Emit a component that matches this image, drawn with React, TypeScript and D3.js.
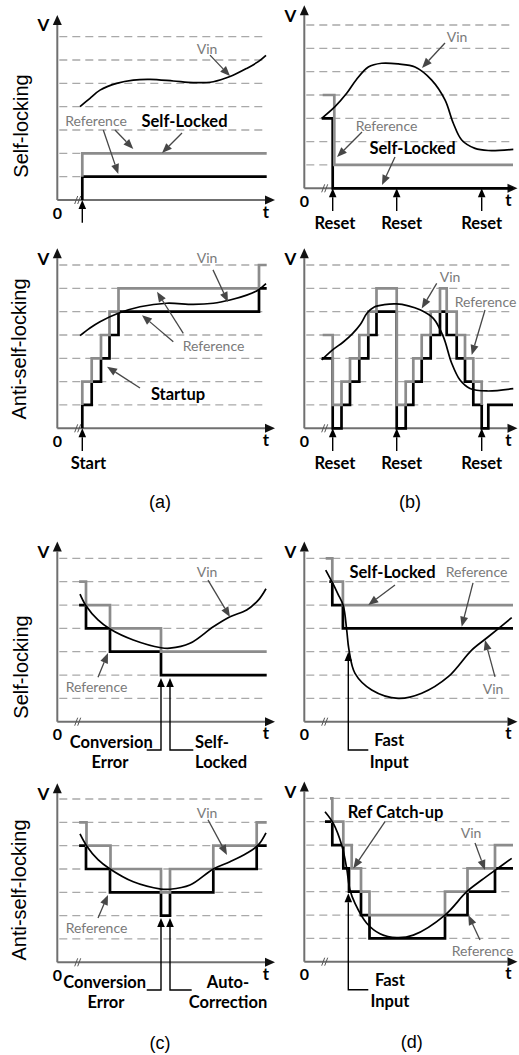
import React from "react";
import * as d3 from "d3";

type Pt = [number, number];
type Label = { text: string; t: number; l: number; bold?: boolean; anchor?: "start" | "middle" | "end" };

// ---------- shared ----------
const GRID_LEVELS = [1, 2, 3, 4, 5, 6, 7];

// ---------- (a) top : self-locking ----------
const A1_VIN: Pt[] = [[11.35, 4.0], [16.35, 4.36], [21.35, 4.71], [29.7, 5.0], [38, 5.14], [46.35, 5.17], [58, 5.1], [68, 5.03], [78, 5.07], [86.35, 5.29], [94.7, 5.64], [100.5, 5.93], [104.35, 6.2]];
const A1_REF: Pt[] = [[12.5, 1], [12.5, 2], [104.7, 2]];
const A1_OUT: Pt[] = [[12.5, 0], [12.5, 1], [104.7, 1]];
const A1_LABELS: Label[] = [
  { text: "Vin", t: 74.85, l: 6.51 },
  { text: "Reference", t: 19.35, l: 3.39 },
  { text: "Self-Locked", t: 63.6, l: 3.39, bold: true },
];
const A1_ARROWS: Pt[][] = [
  [[76.35, 6.21], [86.35, 5.31]],
  [[28.85, 3.0], [38, 2.19]],
  [[23, 3.0], [30.5, 1.11]],
  [[62.35, 2.87], [52.35, 2.01]],
];
const A1_UPS = [12.5];

// ---------- (a) bottom : anti-self-locking ----------
const A2_VIN: Pt[] = [[11.35, 3.97], [16.35, 4.3], [21.35, 4.57], [30.5, 4.93], [41.35, 5.21], [54.7, 5.36], [68, 5.31], [78, 5.36], [86.35, 5.5], [94.7, 5.71], [100.5, 5.93], [104.35, 6.2]];
const A2_REF: Pt[] = [[12.5, 1], [12.5, 2], [17.2, 3], [21.85, 4], [26.1, 5], [30.6, 6], [100.85, 7], [104.7, 7]];
const A2_OUT: Pt[] = [[12.5, 0], [12.5, 1], [17.2, 2], [21.85, 3], [26.1, 4], [30.6, 5], [100.85, 6], [104.7, 6]];
const A2_LABELS: Label[] = [
  { text: "Vin", t: 74.85, l: 7.3 },
  { text: "Reference", t: 78.1, l: 3.57 },
  { text: "Startup", t: 60.35, l: 1.47, bold: true },
  { text: "Start", t: 15.6, l: -1.5, bold: true },
];
const A2_ARROWS: Pt[][] = [
  [[77.85, 6.79], [85.35, 5.41]],
  [[63, 4.07], [49.85, 5.85]],
  [[58, 3.71], [42.35, 4.85]],
  [[41.35, 1.73], [24.85, 2.64]],
];
const A2_UPS = [12.5];

// ---------- (b) top ----------
const B1_VIN: Pt[] = [[8.7, 3.0], [15.35, 3.5], [21.2, 4.07], [26, 4.65], [32, 5.2], [38.7, 5.36], [47, 5.33], [55.35, 5.2], [63.7, 4.64], [70.35, 3.79], [74.5, 2.79], [78.7, 2.07], [85.35, 1.71], [92, 1.62], [104.5, 1.67]];
const B1_REF: Pt[] = [[9.2, 4], [15, 4], [15, 1], [104.35, 1]];
const B1_OUT: Pt[] = [[8.7, 3], [14.2, 3], [14.2, 0], [104.35, 0]];
const B1_LABELS: Label[] = [
  { text: "Vin", t: 76.35, l: 6.49 },
  { text: "Reference", t: 41.1, l: 2.71 },
  { text: "Self-Locked", t: 54.1, l: 1.73, bold: true },
  { text: "Reset", t: 15.35, l: -1.5, bold: true },
  { text: "Reset", t: 48.7, l: -1.5, bold: true },
  { text: "Reset", t: 88.7, l: -1.5, bold: true },
];
const B1_ARROWS: Pt[][] = [
  [[70.35, 6.23], [58.85, 5.16]],
  [[28.85, 2.41], [16.35, 1.34]],
  [[45.35, 1.34], [38.85, 0.14]],
];
const B_RESETS = [14.2, 46.2, 88.7];

// ---------- (b) bottom ----------
const B2_VIN: Pt[] = [[8.7, 2.93], [14, 3.35], [19.5, 3.7], [24, 4.05], [28, 4.45], [31.5, 4.95], [35, 5.2], [40, 5.3], [46, 5.33], [52, 5.25], [57.85, 5.08], [64.5, 4.71], [69.5, 3.93], [73.7, 2.79], [77.85, 2.07], [82.85, 1.71], [91.2, 1.6], [104.5, 1.7]];
const B2_REF: Pt[] = [[9.2, 4], [14.2, 4], [14.2, 1], [18.6, 2], [22.85, 3], [27.5, 4], [32, 5], [36.1, 6], [46.2, 6], [46.2, 1], [50.7, 2], [54.5, 3], [58.7, 4], [63.2, 5], [67.85, 6], [71.2, 5], [76.2, 4], [80.35, 3], [84.5, 2], [88.7, 2], [88.7, 1]];
const B2_OUT: Pt[] = [[8.7, 3], [14.2, 3], [14.2, 0], [18.6, 1], [22.85, 2], [27.5, 3], [32, 4], [36.1, 5], [46.2, 5], [46.2, 0], [50.7, 1], [54.5, 2], [58.7, 3], [63.2, 4], [67.85, 5], [71.2, 4], [76.2, 3], [80.35, 2], [84.5, 1], [88.7, 0], [92, 1], [104.35, 1]];
const B2_LABELS: Label[] = [
  { text: "Vin", t: 72.85, l: 6.5 },
  { text: "Reference", t: 90.6, l: 5.43 },
  { text: "Reset", t: 15.35, l: -1.5, bold: true },
  { text: "Reset", t: 48.7, l: -1.5, bold: true },
  { text: "Reset", t: 88.7, l: -1.5, bold: true },
];
const B2_ARROWS: Pt[][] = [
  [[66.2, 6.21], [58.7, 5.14]],
  [[90.35, 5.07], [83.7, 3.14]],
];

// ---------- (c) top ----------
const C1_VIN: Pt[] = [[11.35, 5.47], [14.35, 4.97], [20.35, 4.36], [26.35, 3.97], [38, 3.5], [51.85, 3.17], [56.35, 3.15], [66.35, 3.36], [78, 4.07], [86.35, 4.5], [94.7, 4.79], [100.5, 5.21], [104.35, 5.7]];
const C1_REF: Pt[] = [[10.9, 6], [14.35, 5], [26.35, 4], [51.85, 3], [104.7, 3]];
const C1_OUT: Pt[] = [[10.9, 5], [14.35, 4], [26.35, 3], [51.85, 2], [104.7, 2]];
const C1_LABELS: Label[] = [
  { text: "Vin", t: 74.85, l: 6.42 },
  { text: "Reference", t: 19.6, l: 1.49 },
  { text: "Conversion", t: 27, l: -0.87, bold: true },
  { text: "Error", t: 26.35, l: -1.73, bold: true },
  { text: "Self-", t: 68.85, l: -0.87, bold: true, anchor: "start" },
  { text: "Locked", t: 68.85, l: -1.73, bold: true, anchor: "start" },
];
const C1_ARROWS: Pt[][] = [
  [[75.35, 6.07], [86.35, 4.49]],
  [[20.35, 1.91], [25.35, 2.94]],
];
const C1_LEADERS: Pt[][] = [
  [[44.7, -1.21], [51.85, -1.21], [51.85, 1.87]],
  [[68, -1.21], [56.35, -1.21], [56.35, 1.87]],
];

// ---------- (c) bottom ----------
const C2_VIN: Pt[] = [[11.35, 5.5], [14.6, 5.0], [20.35, 4.4], [26.35, 4.0], [38, 3.45], [51.85, 3.14], [56.35, 3.13], [66.35, 3.31], [78, 4.0], [86.35, 4.31], [94.7, 4.67], [100.5, 5.03], [104.35, 5.55]];
const C2_REF: Pt[] = [[10.9, 6], [14.6, 5], [26.6, 4], [51.85, 3], [56.35, 4], [78, 5], [99.7, 6], [104.7, 6]];
const C2_OUT: Pt[] = [[10.9, 5], [14.35, 4], [26.35, 3], [51.85, 2], [56.35, 3], [78, 4], [99.7, 5], [104.7, 5]];
const C2_LABELS: Label[] = [
  { text: "Vin", t: 74.85, l: 6.44 },
  { text: "Reference", t: 19.6, l: 1.51 },
  { text: "Conversion", t: 23.7, l: -0.84, bold: true },
  { text: "Error", t: 24.35, l: -1.7, bold: true },
  { text: "Auto-", t: 85.35, l: -0.84, bold: true },
  { text: "Correction", t: 85.35, l: -1.7, bold: true },
];
const C2_ARROWS: Pt[][] = [
  [[75.35, 6.11], [84.85, 4.6]],
  [[20.35, 1.9], [25.35, 2.89]],
];
const C2_LEADERS: Pt[][] = [
  [[44.7, -1.19], [51.85, -1.19], [51.85, 1.9]],
  [[67.2, -1.19], [56.35, -1.19], [56.35, 1.9]],
];

// ---------- (d) top ----------
const D1_VIN: Pt[] = [[10.7, 6.5], [14, 5.97], [16.85, 5.47], [19.5, 4.97], [21.2, 3.93], [22.3, 3.1], [25.35, 2.07], [33.7, 1.36], [47, 1.0], [58.7, 1.22], [72, 1.93], [83.7, 3.07], [92, 3.64], [103.7, 4.46]];
const D1_REF: Pt[] = [[10.7, 7], [14, 6], [19.3, 5], [104.35, 5]];
const D1_OUT: Pt[] = [[12.5, 6], [14, 5], [19.3, 4], [104.35, 4]];
const D1_LABELS: Label[] = [
  { text: "Self-Locked", t: 44.1, l: 6.42, bold: true },
  { text: "Reference", t: 86.1, l: 6.42 },
  { text: "Vin", t: 94.35, l: 1.44 },
  { text: "Fast", t: 42.45, l: -0.78, bold: true },
  { text: "Input", t: 42.45, l: -1.73, bold: true },
];
const D1_ARROWS: Pt[][] = [
  [[45.35, 5.86], [32, 5.0]],
  [[84.35, 5.95], [78.7, 4.07]],
  [[95.35, 1.92], [90.35, 3.5]],
];
const D1_LEADERS: Pt[][] = [[[32, -1.21], [22, -1.21], [22, 2.99]]];

// ---------- (d) bottom ----------
const D2_VIN: Pt[] = [[10.35, 6.43], [14.5, 5.93], [18.7, 5.0], [21.2, 4.0], [22.85, 3.07], [25.35, 2.5], [31.2, 1.65], [37.85, 1.2], [46.2, 1.03], [54.5, 1.14], [70.35, 2.0], [81.2, 3.0], [88.7, 3.5], [96.2, 3.97], [103.7, 4.43]];
const D2_REF: Pt[] = [[12.85, 7], [14, 6], [19.5, 5], [23.7, 4], [28.35, 3], [32.6, 2], [70.35, 3], [81.6, 4], [95.35, 5], [104.35, 5]];
const D2_OUT: Pt[] = [[10.35, 6], [14, 5], [19.5, 4], [22.35, 3], [28.35, 2], [32.6, 1], [70.35, 2], [81.6, 3], [95.35, 4], [104.35, 4]];
const D2_LABELS: Label[] = [
  { text: "Ref Catch-up", t: 45.6, l: 6.43, bold: true },
  { text: "Vin", t: 83.35, l: 5.52 },
  { text: "Reference", t: 89.1, l: 0.5 },
  { text: "Fast", t: 42.85, l: -0.78, bold: true },
  { text: "Input", t: 42.85, l: -1.7, bold: true },
];
const D2_ARROWS: Pt[][] = [
  [[40.35, 6.0], [24.5, 4.0]],
  [[85.35, 5.09], [90.35, 3.93]],
  [[87.85, 0.93], [82, 2.0]],
];
const D2_LEADERS: Pt[][] = [[[32, -1.2], [22, -1.2], [22, 2.93]]];

// ---------- layout ----------
const LEVEL_PX = 23.33;
const T_PX = 2;
const LEFT_X = 57.3;
const RIGHT_X = 304.3;

const FONT = "Lato, 'Open Sans', sans-serif";
const GRAY_LINE = "#8c8c8c";
const GRAY_TEXT = "#7a7a7a";
const ANN = "#474747";

function head(x1: number, y1: number, x2: number, y2: number, len: number, half: number) {
  const dx = x2 - x1, dy = y2 - y1, d = Math.hypot(dx, dy) || 1;
  const ux = dx / d, uy = dy / d;
  const bx = x2 - ux * len, by = y2 - uy * len;
  return { pts: `${x2},${y2} ${bx - uy * half},${by + ux * half} ${bx + uy * half},${by - ux * half}`, bx, by };
}

interface PanelProps {
  ox: number; oy: number; top: number; axisEnd: number; gridEnd: number;
  vin: Pt[]; refs: Pt[]; out: Pt[]; labels: Label[]; arrows: Pt[][];
  ups?: number[]; leaders?: Pt[][];
}

function Panel(p: PanelProps) {
  const x = d3.scaleLinear().domain([0, 100]).range([p.ox, p.ox + 100 * T_PX]);
  const y = d3.scaleLinear().domain([0, 1]).range([p.oy, p.oy - LEVEL_PX]);
  const step = d3.line<Pt>().x(d => x(d[0])).y(d => y(d[1])).curve(d3.curveStepAfter);
  const smooth = d3.line<Pt>().x(d => x(d[0])).y(d => y(d[1])).curve(d3.curveCatmullRom.alpha(0.5));
  const x0 = x(0), y0 = y(0), yTop = y(p.top), xEnd = x(p.axisEnd);
  const yh = head(x0, y0, x0, yTop, 10, 4.5);
  const xh = head(x0, y0, xEnd, y0, 10, 4.5);
  const bx = x(10.2);
  return (
    <g>
      {GRID_LEVELS.map(l => (
        <line key={l} x1={x0 + 2} x2={x(p.gridEnd)} y1={y(l)} y2={y(l)} stroke="#a9a9a9" strokeWidth={1.3} strokeDasharray="8 5" />
      ))}
      <line x1={x0} y1={y0} x2={x0} y2={yh.by} stroke="#707070" strokeWidth={2} />
      <line x1={x0} y1={y0} x2={xh.bx} y2={y0} stroke="#707070" strokeWidth={2} />
      <polygon points={yh.pts} fill="#111" />
      <polygon points={xh.pts} fill="#111" />
      <line x1={bx - 3} y1={y0 + 4} x2={bx} y2={y0 - 4} stroke="#555" strokeWidth={1} />
      <line x1={bx} y1={y0 + 4} x2={bx + 3} y2={y0 - 4} stroke="#555" strokeWidth={1} />
      <text x={x0 - 14} y={yTop + 10} fontFamily={FONT} fontWeight="bold" fontSize={17} textAnchor="middle" dominantBaseline="central">V</text>
      <text x={x0} y={y0 + 12} fontFamily={FONT} fontWeight="bold" fontSize={16} textAnchor="middle" dominantBaseline="central">0</text>
      <text x={xEnd - 9} y={y0 + 11} fontFamily={FONT} fontWeight="bold" fontSize={17} textAnchor="middle" dominantBaseline="central">t</text>
      <path d={step(p.out) || ""} fill="none" stroke="#000" strokeWidth={2.7} />
      <path d={step(p.refs) || ""} fill="none" stroke={GRAY_LINE} strokeWidth={2.7} />
      <path d={smooth(p.vin) || ""} fill="none" stroke="#000" strokeWidth={1.7} />
      {(p.ups || []).map((t, i) => {
        const h = head(x(t), y(-0.97), x(t), y0, 9, 3.8);
        return (
          <g key={"u" + i}>
            <line x1={x(t)} y1={y(-0.97)} x2={h.bx} y2={h.by} stroke="#000" strokeWidth={1.4} />
            <polygon points={h.pts} fill="#000" />
          </g>
        );
      })}
      {(p.leaders || []).map((pts, i) => {
        const n = pts.length;
        const a = pts[n - 2], b = pts[n - 1];
        const h = head(x(a[0]), y(a[1]), x(b[0]), y(b[1]), 9, 3.8);
        const coords = pts.slice(0, n - 1).map(q => `${x(q[0])},${y(q[1])}`).join(" ") + ` ${h.bx},${h.by}`;
        return (
          <g key={"ld" + i}>
            <polyline points={coords} fill="none" stroke="#000" strokeWidth={1.4} />
            <polygon points={h.pts} fill="#000" />
          </g>
        );
      })}
      {p.arrows.map((ar, i) => {
        const h = head(x(ar[0][0]), y(ar[0][1]), x(ar[1][0]), y(ar[1][1]), 10, 4);
        return (
          <g key={"a" + i}>
            <line x1={x(ar[0][0])} y1={y(ar[0][1])} x2={h.bx} y2={h.by} stroke={ANN} strokeWidth={1.3} />
            <polygon points={h.pts} fill={ANN} />
          </g>
        );
      })}
      {p.labels.map((lb, i) => (
        <text key={"l" + i} x={x(lb.t)} y={y(lb.l)} fontFamily={FONT}
          fontWeight={lb.bold ? "bold" : "normal"} fontSize={lb.bold ? 16.5 : 14}
          fill={lb.bold ? "#000" : GRAY_TEXT} textAnchor={lb.anchor || "middle"} dominantBaseline="central">
          {lb.text}
        </text>
      ))}
    </g>
  );
}

const ROW_FONT = "'Liberation Sans', Arial, sans-serif";

export default function App() {
  return (
    <svg width={519} height={1055} style={{ position: "absolute", left: 0, top: 0, background: "#fff" }}>
      <rect x={0} y={0} width={519} height={1055} fill="#fff" />
      <Panel ox={LEFT_X} oy={200} top={7.93} axisEnd={108.85} gridEnd={104.8} vin={A1_VIN} refs={A1_REF} out={A1_OUT} labels={A1_LABELS} arrows={A1_ARROWS} ups={A1_UPS} />
      <Panel ox={LEFT_X} oy={428.3} top={7.72} axisEnd={108.85} gridEnd={104.8} vin={A2_VIN} refs={A2_REF} out={A2_OUT} labels={A2_LABELS} arrows={A2_ARROWS} ups={A2_UPS} />
      <Panel ox={RIGHT_X} oy={188.3} top={7.85} axisEnd={106.6} gridEnd={104.4} vin={B1_VIN} refs={B1_REF} out={B1_OUT} labels={B1_LABELS} arrows={B1_ARROWS} ups={B_RESETS} />
      <Panel ox={RIGHT_X} oy={428.3} top={7.72} axisEnd={106.6} gridEnd={104.4} vin={B2_VIN} refs={B2_REF} out={B2_OUT} labels={B2_LABELS} arrows={B2_ARROWS} ups={B_RESETS} />
      <Panel ox={LEFT_X} oy={721.7} top={7.72} axisEnd={108.85} gridEnd={104.8} vin={C1_VIN} refs={C1_REF} out={C1_OUT} labels={C1_LABELS} arrows={C1_ARROWS} leaders={C1_LEADERS} />
      <Panel ox={LEFT_X} oy={962.3} top={7.68} axisEnd={108.85} gridEnd={104.8} vin={C2_VIN} refs={C2_REF} out={C2_OUT} labels={C2_LABELS} arrows={C2_ARROWS} leaders={C2_LEADERS} />
      <Panel ox={RIGHT_X} oy={721.7} top={7.72} axisEnd={106.6} gridEnd={104.4} vin={D1_VIN} refs={D1_REF} out={D1_OUT} labels={D1_LABELS} arrows={D1_ARROWS} leaders={D1_LEADERS} />
      <Panel ox={RIGHT_X} oy={961.7} top={7.72} axisEnd={106.6} gridEnd={104.4} vin={D2_VIN} refs={D2_REF} out={D2_OUT} labels={D2_LABELS} arrows={D2_ARROWS} leaders={D2_LEADERS} />
      <text transform="translate(21,126) rotate(-90)" fontFamily={ROW_FONT} fontSize={20} textAnchor="middle" dominantBaseline="central">Self-locking</text>
      <text transform="translate(19,349) rotate(-90)" fontFamily={ROW_FONT} fontSize={20} textAnchor="middle" dominantBaseline="central">Anti-self-locking</text>
      <text transform="translate(21,667) rotate(-90)" fontFamily={ROW_FONT} fontSize={20} textAnchor="middle" dominantBaseline="central">Self-locking</text>
      <text transform="translate(19,890) rotate(-90)" fontFamily={ROW_FONT} fontSize={20} textAnchor="middle" dominantBaseline="central">Anti-self-locking</text>
      <text x={160} y={502} fontFamily={ROW_FONT} fontSize={18} textAnchor="middle" dominantBaseline="central">(a)</text>
      <text x={410} y={502} fontFamily={ROW_FONT} fontSize={18} textAnchor="middle" dominantBaseline="central">(b)</text>
      <text x={160} y={1043} fontFamily={ROW_FONT} fontSize={18} textAnchor="middle" dominantBaseline="central">(c)</text>
      <text x={411.7} y={1042} fontFamily={ROW_FONT} fontSize={18} textAnchor="middle" dominantBaseline="central">(d)</text>
    </svg>
  );
}
